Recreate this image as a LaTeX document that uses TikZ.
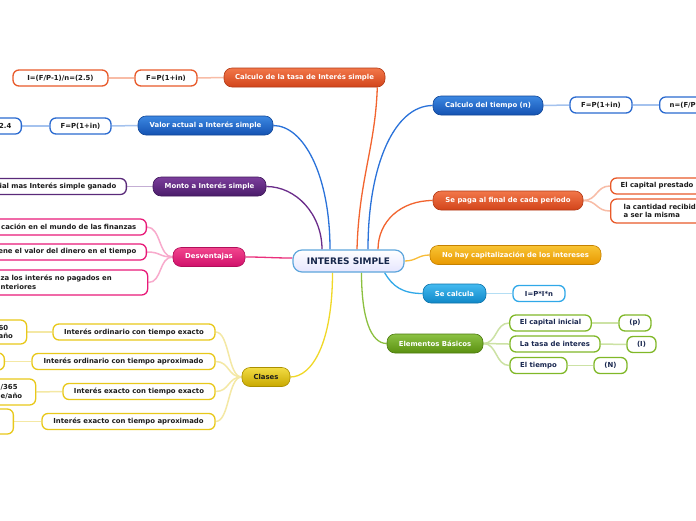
\documentclass[tikz,border=0pt]{standalone}
\usepackage{fontspec}
\setmainfont{DejaVu Sans}
\usetikzlibrary{backgrounds}
\definecolor{orT}{HTML}{F2774A}\definecolor{orB}{HTML}{D2441A}\definecolor{orL}{HTML}{E85A2A}\definecolor{orE}{HTML}{F2642F}\definecolor{orLE}{HTML}{F8BCA6}
\definecolor{blT}{HTML}{3C88E2}\definecolor{blB}{HTML}{1452B2}\definecolor{blL}{HTML}{2A6AD0}\definecolor{blE}{HTML}{2A72DA}\definecolor{blLE}{HTML}{A4C2EE}
\definecolor{puT}{HTML}{7C3E9C}\definecolor{puB}{HTML}{4A1C6A}\definecolor{puL}{HTML}{5A2A7A}\definecolor{puE}{HTML}{6A2C8A}\definecolor{puLE}{HTML}{C4AED4}
\definecolor{piT}{HTML}{F2468E}\definecolor{piB}{HTML}{D0106A}\definecolor{piL}{HTML}{E81A78}\definecolor{piE}{HTML}{EA307C}\definecolor{piLE}{HTML}{F8AACC}
\definecolor{yeT}{HTML}{F2DC44}\definecolor{yeB}{HTML}{C8A800}\definecolor{yeL}{HTML}{E8C81A}\definecolor{yeE}{HTML}{F0D828}\definecolor{yeLE}{HTML}{F4E8A4}
\definecolor{amT}{HTML}{F8C434}\definecolor{amB}{HTML}{E89800}\definecolor{amE}{HTML}{F8BC38}
\definecolor{cyT}{HTML}{44BAF0}\definecolor{cyB}{HTML}{1088C8}\definecolor{cyL}{HTML}{30A8E8}\definecolor{cyE}{HTML}{30A8E8}\definecolor{cyLE}{HTML}{B4DEF4}
\definecolor{grT}{HTML}{8CC244}\definecolor{grB}{HTML}{5A9010}\definecolor{grL}{HTML}{80B828}\definecolor{grE}{HTML}{8CC040}\definecolor{grLE}{HTML}{CCE2A4}
\definecolor{rootB}{HTML}{5EA6DC}\definecolor{rootT}{HTML}{16264A}
\definecolor{txtdark}{HTML}{1C1C1C}\definecolor{navy}{HTML}{1A2850}
\begin{document}
\begin{tikzpicture}[x=1pt,y=-1pt,
  fnt/.style={font=\fontsize{6.9}{8.6}\selectfont\bfseries},
  br/.style 2 args={fnt, rounded corners=8, top color=#1, bottom color=#2, draw=#2!85!black, line width=0.6, text=white, minimum height=19, inner xsep=10, inner ysep=0},
  lf/.style={fnt, rounded corners=6, fill=white, draw=#1, line width=1.3, text=txtdark, minimum height=16, inner xsep=10, inner ysep=0},
  rootnode/.style={font=\fontsize{9}{11}\selectfont\bfseries, rounded corners=9, top color=white, bottom color=black!4!blue!10!white, draw=rootB, line width=1.2, text=rootT, minimum width=111, minimum height=22, inner ysep=0},
  rootedge/.style={draw=#1, line width=1.3},
  lfedge/.style={draw=#1, line width=1.5}]
\useasboundingbox (0,0) rectangle (696,520);

% root
\node[rootnode] (root) at (348.5,261) {INTERES SIMPLE};

% left branches
\node[br={orT}{orB}, minimum width=161] (tasa) at (304.5,77.5) {Calculo de la tasa de Interés simple};
\node[lf=orL, minimum width=62] (tasaF) at (166,78) {F=P(1+in)};
\node[lf=orL, minimum width=95] (tasaI) at (60.5,78) {I=(F/P-1)/n=(2.5)};

\node[br={blT}{blB}, minimum width=135] (valor) at (205.5,125.5) {Valor actual a Interés simple};
\node[lf=blL, minimum width=61] (valorF) at (80.5,126) {F=P(1+in)};
\node[lf=blL, anchor=east, text width=60, align=right] (valorV) at (22,126) {2.4};

\node[br={puT}{puB}, minimum width=113] (monto) at (209.5,186.5) {Monto a Interés simple};
\node[lf=puL, anchor=east, text width=160, align=right] (montoL) at (127,186.5) {ial mas Interés simple ganado};

\node[br={piT}{piB}, minimum width=72] (desv) at (209,257) {Desventajas};
\node[lf=piL, anchor=east, text width=170, align=right] (desv1) at (147,227) {cación en el mundo de las finanzas};
\node[lf=piL, anchor=east, text width=170, align=right] (desv2) at (147,252) {ene el valor del dinero en el tiempo};
\node[lf=piL, anchor=west, text width=137, align=left, minimum height=25] (desv3) at (-10,282.5) {za los interés no pagados en\\nteriores};

\node[br={yeT}{yeB}, minimum width=48, text=txtdark] (clases) at (266,377) {Clases};
\node[lf=yeL, minimum width=162] (c1) at (134,332) {Interés ordinario con tiempo exacto};
\node[lf=yeL, minimum width=183] (c2) at (123.5,361.5) {Interés ordinario con tiempo aproximado};
\node[lf=yeL, minimum width=152] (c3) at (139,391.5) {Interés exacto con tiempo exacto};
\node[lf=yeL, minimum width=173] (c4) at (128.5,421.5) {Interés exacto con tiempo aproximado};
\node[lf=yeL, anchor=west, text width=18, align=left, minimum height=24] (c1s) at (-12,332) {60\\año};
\node[lf=yeL, anchor=east, minimum width=40, minimum height=17] (c2s) at (5,361.5) {};
\node[lf=yeL, anchor=west, text width=25, align=left, minimum height=26] (c3s) at (-10,392) {/365\\e/año};
\node[lf=yeL, anchor=east, minimum width=40, minimum height=25] (c4s) at (14,421.5) {};

% right branches
\node[br={blT}{blB}, minimum width=110] (tiempo) at (488,105.5) {Calculo del tiempo (n)};
\node[lf=blL, minimum width=62] (tiempoF) at (601,105) {F=P(1+in)};
\node[lf=blL, anchor=west, text width=60, align=left] (tiempoN) at (659,105) {n=(F/P};

\node[br={orT}{orB}, minimum width=150] (paga) at (508,200.5) {Se paga al final de cada periodo};
\node[lf=orL, anchor=west, text width=100, align=left] (paga1) at (610,186) {El capital prestado n};
\node[lf=orL, anchor=west, text width=100, align=left, minimum height=24, inner xsep=13] (paga2) at (610,211) {la cantidad recibid\\a ser la misma};

\node[br={amT}{amB}, minimum width=171] (nohay) at (515.5,255) {No hay capitalización de los intereses};
\node[br={cyT}{cyB}, minimum width=63] (calc) at (454.5,293.5) {Se calcula};
\node[lf=cyL, minimum width=52, text=navy] (calcF) at (539,293.5) {I=P*I*n};

\node[br={grT}{grB}, minimum width=96] (elem) at (435,343.5) {Elementos Básicos};
\node[lf=grL, minimum width=81, text=navy] (e1) at (550.5,323) {El capital inicial};
\node[lf=grL, minimum width=90, text=navy] (e2) at (555,344) {La tasa de interes};
\node[lf=grL, minimum width=57, text=navy] (e3) at (538.5,365.5) {El tiempo};
\node[lf=grL, minimum width=32, text=navy] (e1s) at (635,323) {(p)};
\node[lf=grL, minimum width=29, text=navy] (e2s) at (641.5,344.5) {(I)};
\node[lf=grL, minimum width=33, text=navy] (e3s) at (610.5,365.5) {(N)};

\begin{pgfonlayer}{background}
\fill[white] (0,0) rectangle (696,520);
% root edges
\draw[rootedge=orE] ([xshift=-8]tasa.south east) .. controls +(-2,60) and +(2,-70) .. ([xshift=8.5]root.north);
\draw[rootedge=blE] (valor.east) .. controls +(30,0) and +(0,-75) .. ([xshift=-18.5]root.north);
\draw[rootedge=puE] (monto.east) .. controls +(30,0) and +(0,-35) .. ([xshift=-26.5]root.north);
\draw[rootedge=piE] (desv.east) .. controls +(20,0) and +(-20,0) .. ([yshift=3]root.west);
\draw[rootedge=yeE] ([xshift=-16]root.south) .. controls +(0,70) and +(22,0) .. (clases.east);
\draw[rootedge=blE] (tiempo.west) .. controls +(-38,0) and +(0,-85) .. ([xshift=19.5]root.north);
\draw[rootedge=orE] (paga.west) .. controls +(-32,0) and +(0,-28) .. ([xshift=29.5]root.north);
\draw[rootedge=amE] (root.east) .. controls +(12,0) and +(-12,0) .. (nohay.west);
\draw[rootedge=cyE] ([xshift=-20]root.south east) .. controls +(8,14) and +(-20,0) .. (calc.west);
\draw[rootedge=grE] ([xshift=13]root.south) .. controls +(0,45) and +(-16,0) .. (elem.west);
% leaf edges
\draw[lfedge=orLE] (tasa.west) -- (tasaF.east);
\draw[lfedge=orLE] (tasaF.west) -- (tasaI.east);
\draw[lfedge=blLE] (valor.west) -- (valorF.east);
\draw[lfedge=blLE] (valorF.west) -- (valorV.east);
\draw[lfedge=puLE] (monto.west) -- (montoL.east);
\foreach \t in {desv1,desv2,desv3}
  \draw[lfedge=piLE] (desv.west) .. controls +(-14,0) and +(14,0) .. (\t.east);
\foreach \t in {c1,c2,c3,c4}
  \draw[lfedge=yeLE] (clases.west) .. controls +(-14,0) and +(14,0) .. (\t.east);
\draw[lfedge=yeLE] (c1.west) -- (c1s.east);
\draw[lfedge=yeLE] (c2.west) -- (c2s.east);
\draw[lfedge=yeLE] (c3.west) -- (c3s.east);
\draw[lfedge=yeLE] (c4.west) -- (c4s.east);
\draw[lfedge=blLE] (tiempo.east) -- (tiempoF.west);
\draw[lfedge=blLE] (tiempoF.east) -- (tiempoN.west);
\foreach \t in {paga1,paga2}
  \draw[lfedge=orLE] (paga.east) .. controls +(14,0) and +(-14,0) .. (\t.west);
\draw[lfedge=cyLE] (calc.east) -- (calcF.west);
\foreach \t in {e1,e2,e3}
  \draw[lfedge=grLE] (elem.east) .. controls +(14,0) and +(-14,0) .. (\t.west);
\draw[lfedge=grLE] (e1.east) -- (e1s.west);
\draw[lfedge=grLE] (e2.east) -- (e2s.west);
\draw[lfedge=grLE] (e3.east) -- (e3s.west);
\end{pgfonlayer}
\end{tikzpicture}
\end{document}
